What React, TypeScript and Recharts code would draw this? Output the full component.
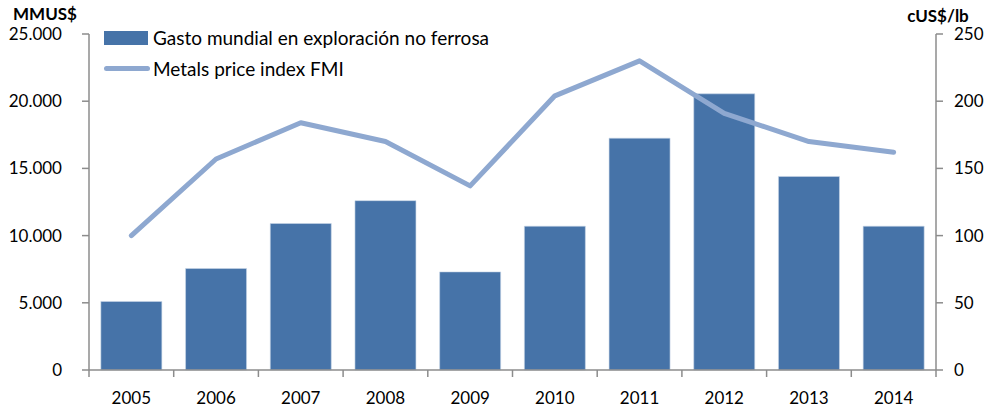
import React from 'react';
import {
  ComposedChart,
  Bar,
  Line,
  XAxis,
  YAxis,
  Legend,
} from 'recharts';

const years = ['2005', '2006', '2007', '2008', '2009', '2010', '2011', '2012', '2013', '2014'];
const exploracion = [5100, 7550, 10900, 12600, 7300, 10700, 17250, 20550, 14400, 10700];
const fmiIndex = [100, 157, 184, 170, 137, 204, 230, 191, 170, 162];
const leftTicks = [0, 5000, 10000, 15000, 20000, 25000];
const rightTicks = [0, 50, 100, 150, 200, 250];

const data = years.map((year, i) => ({
  year,
  gasto: exploracion[i],
  fmi: fmiIndex[i],
}));

const FONT = 'Lato, "Open Sans", sans-serif';
const BAR_COLOR = '#4673a8';
const LINE_COLOR = '#8ea8d0';
const AXIS_COLOR = '#8c8c8c';

const fmtThousands = (v: number) =>
  v.toLocaleString('de-DE', { maximumFractionDigits: 0 });

// category tick: label in the middle, tick marks on the band edges
function YearTick(props: any) {
  const { x, y, payload, index, visibleTicksCount } = props;
  const half = payload?.offset ?? 42.4;
  const last = index === (visibleTicksCount ?? years.length) - 1;
  return (
    <g>
      <line x1={x - half} x2={x - half} y1={y - 22} y2={y - 15} stroke={AXIS_COLOR} strokeWidth={1.5} />
      {last && (
        <line x1={x + half} x2={x + half} y1={y - 22} y2={y - 15} stroke={AXIS_COLOR} strokeWidth={1.5} />
      )}
      <text x={x} y={y} dy="0.71em" textAnchor="middle" fill="#000" fontSize={17} fontFamily={FONT}>
        {payload.value}
      </text>
    </g>
  );
}

function LegendBox() {
  return (
    <div style={{ fontFamily: FONT, fontSize: 19, color: '#000', lineHeight: '31px' }}>
      <div style={{ display: 'flex', alignItems: 'center' }}>
        <span style={{ width: 44, height: 14, background: BAR_COLOR, marginRight: 5, display: 'inline-block' }} />
        Gasto mundial en exploración no ferrosa
      </div>
      <div style={{ display: 'flex', alignItems: 'center' }}>
        <span style={{ width: 46, height: 5, borderRadius: 3, background: LINE_COLOR, marginRight: 3, display: 'inline-block' }} />
        Metals price index FMI
      </div>
    </div>
  );
}

export default function App() {
  return (
    <div style={{ position: 'absolute', left: 0, top: 0, width: 988, height: 407, background: '#fff' }}>
      <ComposedChart
        width={988}
        height={407}
        data={data}
        margin={{ top: 34, right: 0, bottom: 0, left: 0 }}
        barCategoryGap="14%"
      >
        <XAxis
          dataKey="year"
          height={37}
          axisLine={{ stroke: AXIS_COLOR, strokeWidth: 1.5 }}
          tickLine={false}
          tickSize={0}
          tickMargin={22}
          tick={<YearTick />}
          interval={0}
        />
        <YAxis
          yAxisId="left"
          width={89}
          domain={[0, 25000]}
          ticks={leftTicks}
          tickFormatter={fmtThousands}
          axisLine={{ stroke: AXIS_COLOR, strokeWidth: 1.5 }}
          tickLine={{ stroke: AXIS_COLOR, strokeWidth: 1.5 }}
          tickSize={7}
          tickMargin={20}
          tick={{ fill: '#000', fontSize: 17, fontFamily: FONT }}
          label={{
            content: () => (
              <text x={45} y={20} textAnchor="middle" fontSize={17} fontWeight="bold" fontFamily={FONT} fill="#000">
                MMUS$
              </text>
            ),
          }}
        />
        <YAxis
          yAxisId="right"
          orientation="right"
          width={52}
          domain={[0, 250]}
          ticks={rightTicks}
          axisLine={{ stroke: AXIS_COLOR, strokeWidth: 1.5 }}
          tickLine={{ stroke: AXIS_COLOR, strokeWidth: 1.5 }}
          tickSize={7}
          tickMargin={11}
          tick={{ fill: '#000', fontSize: 17, fontFamily: FONT, textAnchor: 'start' }}
          label={{
            content: () => (
              <text x={938} y={22} textAnchor="middle" fontSize={17} fontWeight="bold" fontFamily={FONT} fill="#000">
                cUS$/lb
              </text>
            ),
          }}
        />
        <Legend
          layout="vertical"
          verticalAlign="middle"
          align="center"
          content={<LegendBox />}
          wrapperStyle={{ top: 22, left: 104, width: 520 }}
        />
        <Bar
          yAxisId="left"
          dataKey="gasto"
          name="Gasto mundial en exploración no ferrosa"
          fill={BAR_COLOR}
          stroke="#c9d6e8"
          strokeWidth={0.6}
          isAnimationActive={false}
        />
        <Line
          yAxisId="right"
          dataKey="fmi"
          name="Metals price index FMI"
          type="linear"
          stroke={LINE_COLOR}
          strokeWidth={5}
          strokeLinecap="round"
          strokeLinejoin="round"
          dot={false}
          activeDot={false}
          isAnimationActive={false}
        />
      </ComposedChart>
    </div>
  );
}
